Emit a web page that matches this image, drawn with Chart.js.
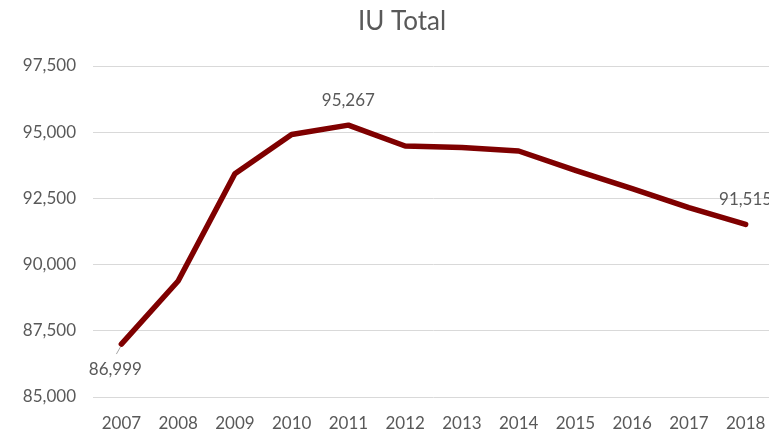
<!DOCTYPE html>
<html>
<head>
<meta charset="utf-8">
<script src="https://cdn.jsdelivr.net/npm/chart.js@4.4.1/dist/chart.umd.min.js"></script>
<style>
  html, body { margin: 0; padding: 0; background: #fff; }
  #wrap { width: 769px; height: 433px; overflow: hidden; position: relative; }
  canvas { display: block; }
</style>
</head>
<body>
<div id="wrap"><canvas id="chart" width="775" height="433"></canvas></div>
<script>
// Données
const TITLE = 'IU Total';
const YEARS = ['2007', '2008', '2009', '2010', '2011', '2012', '2013', '2014', '2015', '2016', '2017', '2018'];
const TOTALS = [86999, 89380, 93430, 94910, 95267, 94480, 94420, 94290, 93560, 92870, 92150, 91515];
const LABELLED = [0, 4, 11]; // points avec étiquette de valeur
const Y_MIN = 85000;
const Y_MAX = 97500;
const Y_STEP = 2500;

const GREY = '#595959';
const FONT = 'Lato, "DejaVu Sans", sans-serif';

const fmt = (v) => v.toLocaleString('en-US');

// Titre centré sur la fenêtre visible (le canevas déborde un peu à droite)
const chartTitle = {
  id: 'chartTitle',
  afterDraw(chart) {
    const { ctx } = chart;
    ctx.save();
    ctx.font = '26px ' + FONT;
    ctx.fillStyle = GREY;
    ctx.textAlign = 'center';
    ctx.textBaseline = 'middle';
    ctx.fillText(TITLE, 402, 22);
    ctx.restore();
  },
};

// Étiquettes de valeur (premier, max, dernier) façon Excel
const valueLabels = {
  id: 'valueLabels',
  afterDatasetsDraw(chart) {
    const { ctx } = chart;
    const meta = chart.getDatasetMeta(0);
    ctx.save();
    ctx.font = '17px ' + FONT;
    ctx.fillStyle = GREY;
    ctx.textAlign = 'center';
    ctx.textBaseline = 'middle';
    LABELLED.forEach(i => {
      const pt = meta.data[i];
      const txt = fmt(TOTALS[i]);
      if (i === 0) {
        // en dessous, avec trait de rappel
        ctx.strokeStyle = '#a6a6a6';
        ctx.lineWidth = 1;
        ctx.beginPath();
        ctx.moveTo(pt.x - 1, pt.y + 3);
        ctx.lineTo(pt.x - 5, pt.y + 10);
        ctx.stroke();
        ctx.fillText(txt, pt.x - 6, pt.y + 25);
      } else {
        ctx.fillText(txt, pt.x, pt.y - 25);
      }
    });
    ctx.restore();
  },
};

new Chart(document.getElementById('chart'), {
  type: 'line',
  data: {
    labels: YEARS,
    datasets: [{
      label: TITLE,
      data: TOTALS,
      borderColor: '#7f0000',
      backgroundColor: '#7f0000',
      borderWidth: 5.5,
      pointRadius: 0,
      tension: 0,
      borderCapStyle: 'round',
      borderJoinStyle: 'round',
    }],
  },
  options: {
    responsive: false,
    animation: false,
    layout: { padding: { left: 0, right: 1, top: 66, bottom: 0 } },
    plugins: {
      legend: { display: false },
      tooltip: { enabled: false },
      title: { display: false },
    },
    scales: {
      x: {
        type: 'category',
        offset: true,
        grid: { display: false },
        border: { display: false },
        ticks: { color: GREY, font: { family: FONT, size: 17 }, padding: 8, maxRotation: 0, autoSkip: false },
        afterFit: (s) => { s.height = 36; },
      },
      y: {
        min: Y_MIN,
        max: Y_MAX,
        grid: { color: '#d9d9d9', lineWidth: 1, drawTicks: false },
        border: { display: false },
        ticks: {
          stepSize: Y_STEP,
          color: GREY,
          font: { family: FONT, size: 17 },
          padding: 17,
          callback: (v) => fmt(v),
        },
        afterFit: (s) => { s.width = 93; },
      },
    },
  },
  plugins: [valueLabels, chartTitle],
});
</script>
</body>
</html>
